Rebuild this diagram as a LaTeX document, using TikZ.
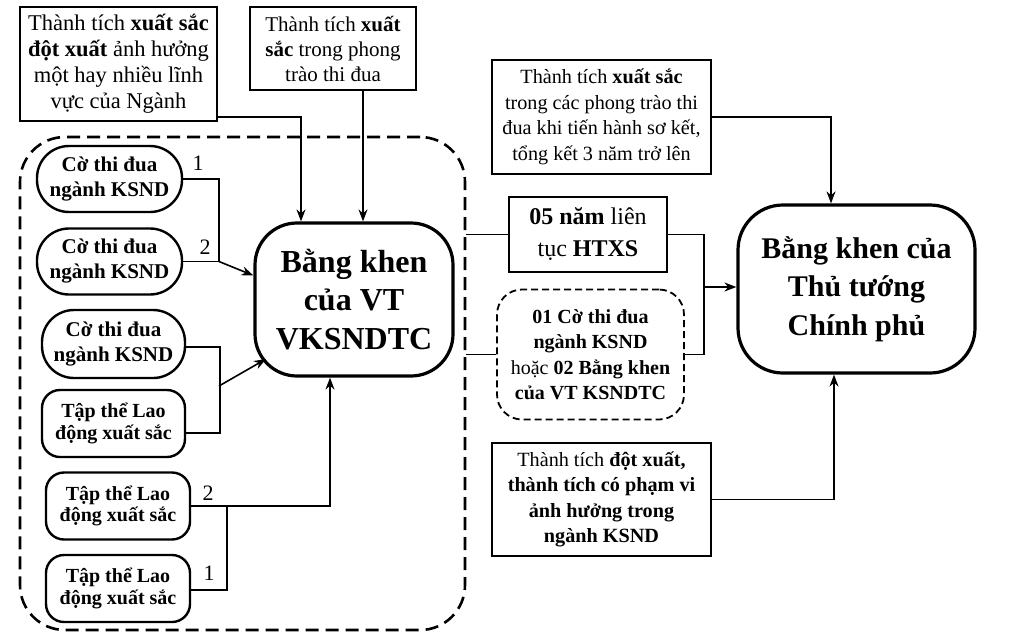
\documentclass[tikz,border=0pt]{standalone}
\usepackage{fontspec}
\setmainfont{Liberation Serif}
\usetikzlibrary{arrows.meta,calc}
\begin{document}
\begin{tikzpicture}[x=1pt,y=-1pt,
  every node/.style={inner sep=0pt, align=center},
  txt/.style={font=\fontsize{20.5}{25.5}\selectfont},
  box/.style={draw, line width=1.6pt, txt},
  pill/.style={draw, line width=2.4pt, rounded corners=32pt, font=\bfseries\fontsize{21}{25}\selectfont},
  team/.style={draw, line width=2.4pt, rounded corners=18pt, font=\bfseries\fontsize{20}{21.5}\selectfont},
  big/.style={draw, line width=3.2pt, rounded corners=42pt, font=\bfseries\fontsize{30}{38.5}\selectfont},
  grpbox/.style={draw, line width=2.6pt, dash pattern=on 13pt off 7pt, rounded corners=45pt},
  dbox/.style={draw, line width=1.8pt, dash pattern=on 7pt off 4pt, rounded corners=25pt},
  conn/.style={line width=1.6pt},
  arr/.style={conn, -{Stealth[length=12pt,width=9pt]}},
  lbl/.style={font=\fontsize{22}{24}\selectfont}
]
\useasboundingbox (0,0) rectangle (1011,635);

% group
\node[grpbox, minimum width=445pt, minimum height=493pt] (grp) at (242.5,383.5) {};

% top boxes
\node[box, minimum width=197pt, minimum height=114pt, font=\fontsize{22.5}{26}\selectfont] (tl) at (118.5,64)
  {Thành tích \textbf{xuất sắc}\\\textbf{đột xuất} ảnh hưởng\\một hay nhiều lĩnh\\vực của Ngành};
\node[box, minimum width=166pt, minimum height=83pt, font=\fontsize{21}{25}\selectfont] (tm) at (333,48.5)
  {Thành tích \textbf{xuất}\\\textbf{sắc} trong phong\\trào thi đua};

% left nodes
\node[pill, minimum width=145pt, minimum height=66pt] (n1) at (109.5,179) {Cờ thi đua\\ngành KSND};
\node[pill, minimum width=145pt, minimum height=66pt] (n2) at (109.5,261.5) {Cờ thi đua\\ngành KSND};
\node[pill, minimum width=143pt, minimum height=68pt] (n3) at (113.5,344) {Cờ thi đua\\ngành KSND};
\node[team, minimum width=143pt, minimum height=67pt] (n4) at (113.5,423.5) {Tập thể Lao\\động xuất sắc};
\node[team, minimum width=144pt, minimum height=67pt] (n5) at (118,506) {Tập thể Lao\\động xuất sắc};
\node[team, minimum width=144pt, minimum height=67pt] (n6) at (118,588.5) {Tập thể Lao\\động xuất sắc};

% central
\node[big, minimum width=198pt, minimum height=153pt, font=\bfseries\fontsize{32}{38.5}\selectfont] (C) at (354,299.5) {Bằng khen\\của VT\\VKSNDTC};

% right side
\node[box, minimum width=219pt, minimum height=114pt, font=\fontsize{20.2}{25.5}\selectfont] (tr) at (601.5,117)
  {Thành tích \textbf{xuất sắc}\\trong các phong trào thi\\đua khi tiến hành sơ kết,\\tổng kết 3 năm trở lên};
\node[box, minimum width=158pt, minimum height=75pt, font=\fontsize{24}{32}\selectfont] (y5) at (588,234.5)
  {\textbf{05 năm} liên\\tục \textbf{HTXS}};
\node[dbox, minimum width=187pt, minimum height=130pt, font=\fontsize{20}{25.5}\selectfont] (D) at (590.5,354.5)
  {\textbf{01 Cờ thi đua}\\\textbf{ngành KSND}\\hoặc \textbf{02 Bằng khen}\\\textbf{của VT KSNDTC}};
\node[big, minimum width=237pt, minimum height=168pt, rounded corners=45pt] (P) at (856.5,289)
  {Bằng khen của\\Thủ tướng\\Chính phủ};
\node[box, minimum width=219pt, minimum height=113pt, font=\fontsize{20.2}{25.5}\selectfont] (br) at (601.5,499.5)
  {Thành tích \textbf{đột xuất,}\\\textbf{thành tích có phạm vi}\\\textbf{ảnh hưởng trong}\\\textbf{ngành KSND}};

% labels
\node[lbl] (l1) at (198,163) {1};
\node[lbl] (l2) at (205,247) {2};
\node[lbl] (l3) at (208,493) {2};
\node[lbl] (l4) at (209,573) {1};

% coordinates
\coordinate (j1) at (219,261.5);
\coordinate (j2) at (219,386);
\coordinate (t2) at (266,359);
\coordinate (j3) at (227,506);
\coordinate (j5) at (703,287);

% left connectors
\draw[arr] ([yshift=5pt]tl.south east) -| ([xshift=-53pt]C.north);
\draw[arr] ([xshift=30pt]tm.south) -- ([xshift=9pt]C.north);
\draw[conn] (n1.east) -| (j1);
\draw[conn] (n2.east) -- (j1);
\draw[arr] (j1) -- ([yshift=24pt]C.west);
\draw[conn] ([yshift=-3pt]n3.east) -- ++(34,0) |- ([yshift=-9.5pt]n4.east);
\draw[arr] (j2) -- (t2);
\draw[arr] (n5.east) -| ([xshift=-24pt]C.south);
\draw[conn] (j3) |- ([yshift=-1.5pt]n6.east);

% right connectors
\draw[arr] (tr.east) -| ([xshift=-25.5pt]P.north);
\draw[conn] (grp.east |- y5.west) -- (y5.west);
\draw[conn] (grp.east |- D.west) -- (D.west);
\draw[conn] (y5.east) -- ++(36,0) |- (D.east);
\draw[arr] (j5) -- (j5 -| P.west);
\draw[arr] (br.east) -| ([xshift=-22.5pt]P.south);
\end{tikzpicture}
\end{document}
